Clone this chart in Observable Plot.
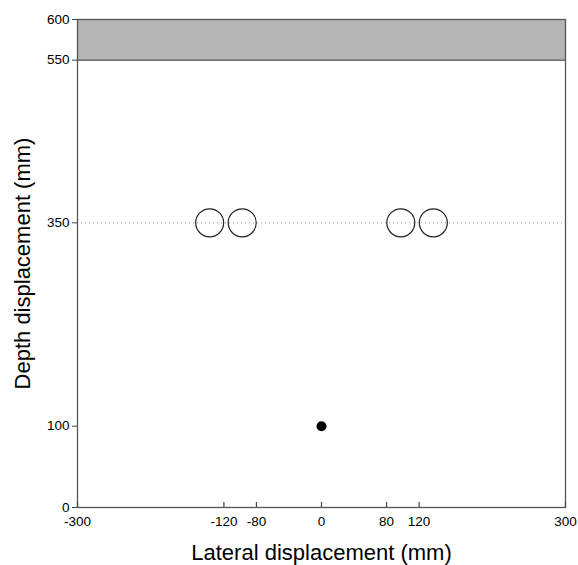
<!DOCTYPE html>
<html><head><meta charset="utf-8">
<script src="https://cdn.jsdelivr.net/npm/d3@7"></script>
<script src="https://cdn.jsdelivr.net/npm/@observablehq/plot@0.6"></script>
<style>
body{margin:0;background:#fff;}
svg{font-family:"Liberation Sans",Arial,sans-serif;}
</style>
</head><body><div id="chart"></div>
<script>
const xTicks = [-300, -120, -80, 0, 80, 120, 300];
const yTicks = [0, 100, 350, 550, 600];
const circleX = [-137.5, -97.5, 97.5, 137.5];
const circleY = [350, 350, 350, 350];
const pointX = [0];
const pointY = [100];
const bandBottom = [550];
const bandTop = [600];
const lineY = [350];

const circles = circleX.map((x, i) => ({x, y: circleY[i]}));
const points = pointX.map((x, i) => ({x, y: pointY[i]}));
const band = bandBottom.map((b, i) => ({y1: b, y2: bandTop[i]}));

const chart = Plot.plot({
  width: 578, height: 565,
  marginLeft: 77, marginRight: 13, marginTop: 19, marginBottom: 58,
  style: {fontSize: "13.5px", fontFamily: "Liberation Sans, Arial, sans-serif", color: "#000"},
  x: {domain: [-300, 300]},
  y: {domain: [0, 600]},
  marks: [
    Plot.rectY(band, {x1: -300, x2: 300, y1: "y1", y2: "y2", fill: "#b5b5b5"}),
    Plot.ruleY(band, {y: "y1", stroke: "#444", strokeWidth: 1.2}),
    Plot.ruleY(lineY, {stroke: "#999", strokeDasharray: "1,3", strokeWidth: 1}),
    Plot.dot(circles, {x: "x", y: "y", r: 14, stroke: "#222", strokeWidth: 1.2, fill: "none"}),
    Plot.dot(points, {x: "x", y: "y", r: 5, fill: "#000"}),
    Plot.frame({stroke: "#555", strokeWidth: 1.3}),
    Plot.axisX({ticks: xTicks, tickSize: 5, dy: -5, text: null, label: null, stroke: "#444", strokeWidth: 1.2}),
    Plot.axisX({ticks: xTicks, tickSize: 0, tickPadding: 9, tickFormat: d => String(d), label: null, fontSize: 13.5, fill: "#000"}),
    Plot.axisY({ticks: yTicks, tickSize: 5, tickPadding: 3, tickFormat: d => String(d), label: null, stroke: "#444", fontSize: 13.5, fill: "#000"}),
    Plot.text(["Lateral displacement (mm)"], {frameAnchor: "bottom", dy: 52, fontSize: 22, fill: "#000"}),
    Plot.text(["Depth displacement (mm)"], {frameAnchor: "left", dx: -55, rotate: -90, textAnchor: "middle", fontSize: 22, fill: "#000"})
  ]
});
document.getElementById("chart").appendChild(chart);
</script>
</body></html>
